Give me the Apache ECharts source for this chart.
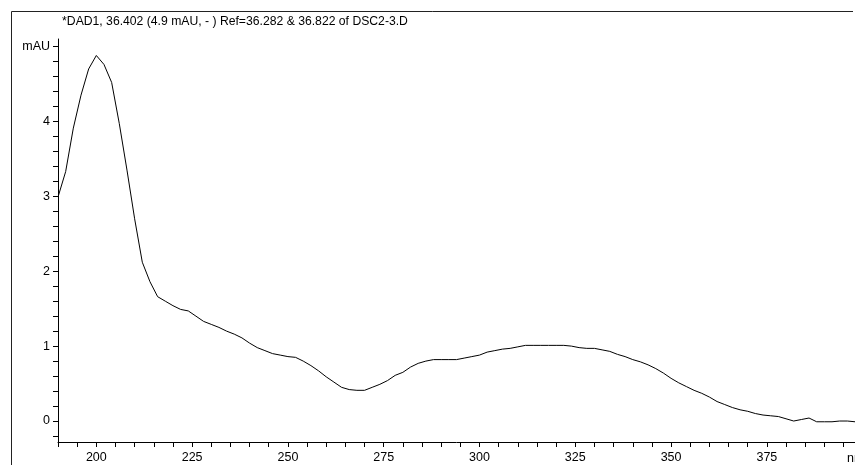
<!DOCTYPE html>
<html>
<head>
<meta charset="utf-8">
<title>DAD1 spectrum</title>
<script src="https://cdn.jsdelivr.net/npm/echarts@6/dist/echarts.min.js"></script>
<style>
  html, body { margin: 0; padding: 0; background: #fff; }
  #chart { width: 855px; height: 465px; }
</style>
</head>
<body>
<div id="chart"></div>
<script>
// UV spectrum, wavelength (nm) vs absorbance (mAU), sampled every 2 nm
const wavelengths = [
  190, 192, 194, 196, 198, 200, 202, 204, 206, 208,
  210, 212, 214, 216, 218, 220, 222, 224, 226, 228,
  230, 232, 234, 236, 238, 240, 242, 244, 246, 248,
  250, 252, 254, 256, 258, 260, 262, 264, 266, 268,
  270, 272, 274, 276, 278, 280, 282, 284, 286, 288,
  290, 292, 294, 296, 298, 300, 302, 304, 306, 308,
  310, 312, 314, 316, 318, 320, 322, 324, 326, 328,
  330, 332, 334, 336, 338, 340, 342, 344, 346, 348,
  350, 352, 354, 356, 358, 360, 362, 364, 366, 368,
  370, 372, 374, 376, 378, 380, 382, 384, 386, 388,
  390, 392, 394, 396, 398
];
const absorbance = [
  2.99, 3.33, 3.91, 4.35, 4.70, 4.88, 4.76, 4.52, 3.97, 3.35,
  2.70, 2.12, 1.86, 1.66, 1.60, 1.54, 1.49, 1.47, 1.40, 1.33,
  1.29, 1.25, 1.20, 1.16, 1.11, 1.04, 0.98, 0.94, 0.90, 0.88,
  0.86, 0.85, 0.80, 0.74, 0.67, 0.59, 0.52, 0.45, 0.42, 0.41,
  0.41, 0.45, 0.49, 0.54, 0.61, 0.65, 0.72, 0.77, 0.80, 0.82,
  0.82, 0.82, 0.82, 0.84, 0.86, 0.88, 0.92, 0.94, 0.96, 0.97,
  0.99, 1.01, 1.01, 1.01, 1.01, 1.01, 1.01, 1.00, 0.98, 0.97,
  0.97, 0.95, 0.93, 0.89, 0.86, 0.82, 0.79, 0.75, 0.70, 0.64,
  0.57, 0.51, 0.46, 0.41, 0.37, 0.32, 0.26, 0.22, 0.18, 0.15,
  0.13, 0.10, 0.08, 0.07, 0.06, 0.03, 0.00, 0.02, 0.04, -0.01,
  -0.01, -0.01, 0.00, 0.00, -0.01
];

// Axis tick and label positions
const xLabelValues = [200, 225, 250, 275, 300, 325, 350, 375];
const yLabelValues = [0, 1, 2, 3, 4, 5];
const xUnit = 'nm';
const yUnit = 'mAU';
const titleText = '*DAD1, 36.402 (4.9 mAU, - ) Ref=36.282 & 36.822 of DSC2-3.D';

const xTickValues = [];
for (let v = 190; v <= 395; v += 5) xTickValues.push(v);
const yTickValues = [];
for (let i = -1; i <= 25; i++) yTickValues.push(Math.round(i * 20) / 100);

const FONT = "'Liberation Sans', Arial, sans-serif";
const INK = '#000';
const LABEL_SIZE = 12.5;

const chart = echarts.init(document.getElementById('chart'), null, { renderer: 'canvas' });

chart.setOption({
  animation: false,
  backgroundColor: '#fff',
  textStyle: { fontFamily: FONT },
  title: {
    text: titleText,
    left: 230,
    top: 11,
    textAlign: 'center',
    textStyle: { fontFamily: FONT, fontSize: 12.2, fontWeight: 'normal', color: INK }
  },
  graphic: [
    {
      // open frame around the plot: left and top edges
      type: 'polyline',
      silent: true,
      shape: { points: [[11.5, 465], [11.5, 11.5], [853, 11.5]] },
      style: { stroke: '#222', lineWidth: 1, fill: null }
    },
    {
      // x unit sits in the last label slot, running off the right edge
      type: 'text',
      silent: true,
      left: 847,
      top: 452,
      style: { text: xUnit, font: LABEL_SIZE + 'px ' + FONT, fill: INK }
    }
  ],
  grid: { left: 58, right: 0, top: 39, bottom: 23, containLabel: false },
  xAxis: {
    type: 'value',
    min: 190,
    max: 398,
    axisLine: { show: true, onZero: false, lineStyle: { color: INK, width: 1 } },
    axisTick: {
      show: true, inside: false, length: 5,
      customValues: xTickValues,
      lineStyle: { color: INK, width: 1 }
    },
    axisLabel: {
      show: true, margin: 9,
      customValues: xLabelValues,
      fontFamily: FONT, fontSize: LABEL_SIZE, color: INK
    },
    splitLine: { show: false }
  },
  yAxis: {
    type: 'value',
    min: -0.28,
    max: 5.1,
    axisLine: { show: true, onZero: false, lineStyle: { color: INK, width: 1 } },
    axisTick: {
      show: true, inside: false, length: 5,
      customValues: yTickValues,
      lineStyle: { color: INK, width: 1 }
    },
    axisLabel: {
      show: true, margin: 8,
      customValues: yLabelValues,
      formatter: v => (v === 5 ? yUnit : String(v)),
      fontFamily: FONT, fontSize: LABEL_SIZE, color: INK
    },
    splitLine: { show: false }
  },
  series: [
    {
      type: 'line',
      data: wavelengths.map((w, i) => [w, absorbance[i]]),
      showSymbol: false,
      smooth: false,
      clip: true,
      lineStyle: { color: INK, width: 1 }
    }
  ]
});
</script>
</body>
</html>
